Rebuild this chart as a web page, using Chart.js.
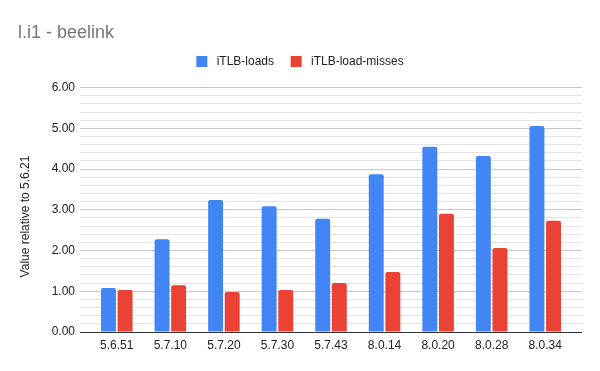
<!DOCTYPE html>
<html>
<head>
<meta charset="utf-8">
<script src="https://cdn.jsdelivr.net/npm/chart.js@4"></script>
<style>
  html, body { margin: 0; padding: 0; background: #fff; }
  #wrap { width: 600px; height: 371px; }
</style>
</head>
<body>
<div id="wrap"><canvas id="chart" width="600" height="371"></canvas></div>
<script>
// Values
const versions = ['5.6.51', '5.7.10', '5.7.20', '5.7.30', '5.7.43', '8.0.14', '8.0.20', '8.0.28', '8.0.34'];
const itlbLoads = [1.08, 2.28, 3.24, 3.09, 2.78, 3.87, 4.55, 4.32, 5.06];
const itlbLoadMisses = [1.03, 1.15, 0.98, 1.03, 1.20, 1.47, 2.90, 2.06, 2.73];
const yMin = 0;
const yMax = 6;
const yStep = 0.2;

const BLUE = '#4285F4';
const RED = '#EA4335';
const MAJOR = '#c8c8c8';
const MINOR = '#e3e3e3';
const AXIS = '#333333';

Chart.defaults.font.family = '"Liberation Sans", Arial, sans-serif';
Chart.defaults.color = '#222222';

function isMajor(v) {
  return Math.abs(v - Math.round(v)) < 1e-6;
}

function lineColor(ctx) {
  const v = ctx.tick ? ctx.tick.value : 1;
  if (Math.abs(v) < 1e-6) return AXIS;
  return isMajor(v) ? MAJOR : MINOR;
}

// Extra gap under the legend, like Sheets does
const legendSpacer = {
  id: 'legendSpacer',
  beforeInit(chart) {
    const fit = chart.legend.fit;
    chart.legend.fit = function () {
      fit.bind(chart.legend)();
      this.height += 10;
    };
  }
};

// wider gaps between swatch and text (spaces are cheaper than a custom legend)
function legendLabels(chart) {
  const items = Chart.defaults.plugins.legend.labels.generateLabels(chart);
  return items.map((it, i) => ({ ...it, text: ' ' + it.text + (i < items.length - 1 ? '  ' : '') }));
}

new Chart(document.getElementById('chart'), {
  type: 'bar',
  data: {
    labels: versions,
    datasets: [
      {
        label: 'iTLB-loads',
        data: itlbLoads,
        backgroundColor: BLUE,
        borderRadius: 2,
        barPercentage: 0.9,
        categoryPercentage: 0.62,
      },
      {
        label: 'iTLB-load-misses',
        data: itlbLoadMisses,
        backgroundColor: RED,
        borderRadius: 2,
        barPercentage: 0.9,
        categoryPercentage: 0.62,
      },
    ],
  },
  options: {
    responsive: false,
    animation: false,
    devicePixelRatio: 1,
    layout: { padding: { left: 18, right: 18, top: 0, bottom: 0 } },
    plugins: {
      tooltip: { enabled: false },
      title: {
        display: true,
        text: 'l.i1 - beelink',
        align: 'start',
        color: '#757575',
        font: { size: 18, weight: 'normal' },
        padding: { top: 22, bottom: 2 },
      },
      legend: {
        position: 'top',
        align: 'center',
        labels: {
          boxWidth: 11,
          boxHeight: 11,
          padding: 10,
          color: '#222222',
          font: { size: 12 },
          generateLabels: legendLabels,
        },
      },
    },
    scales: {
      x: {
        grid: { display: false, drawTicks: false },
        border: { display: true, color: AXIS, width: 1 },
        ticks: { color: '#222222', font: { size: 12 }, padding: 6, maxRotation: 0 },
        afterFit: (s) => { s.height = 39; },
      },
      y: {
        position: 'left',
        min: yMin,
        max: yMax,
        grid: { color: lineColor, tickColor: lineColor, drawTicks: true, tickLength: 10 },
        border: { display: false },
        ticks: {
          stepSize: yStep,
          autoSkip: false,
          padding: 5,
          color: '#222222',
          font: { size: 12 },
          callback: (v) => (isMajor(v) ? v.toFixed(2) : ''),
        },
        title: {
          display: true,
          // trailing spaces nudge the centred title down a few px
          text: 'Value relative to 5.6.21    ',
          color: '#222222',
          font: { size: 12 },
          padding: 0,
        },
        afterFit: (s) => { s.width = 72; },
      },
      y2: {
        position: 'right',
        min: yMin,
        max: yMax,
        grid: { drawOnChartArea: false, drawTicks: true, tickLength: 10, color: lineColor, tickColor: lineColor },
        border: { display: false },
        ticks: { stepSize: yStep, autoSkip: false, display: false },
        afterFit: (s) => { s.width = 10; },
      },
    },
  },
  plugins: [legendSpacer],
});
</script>
</body>
</html>
